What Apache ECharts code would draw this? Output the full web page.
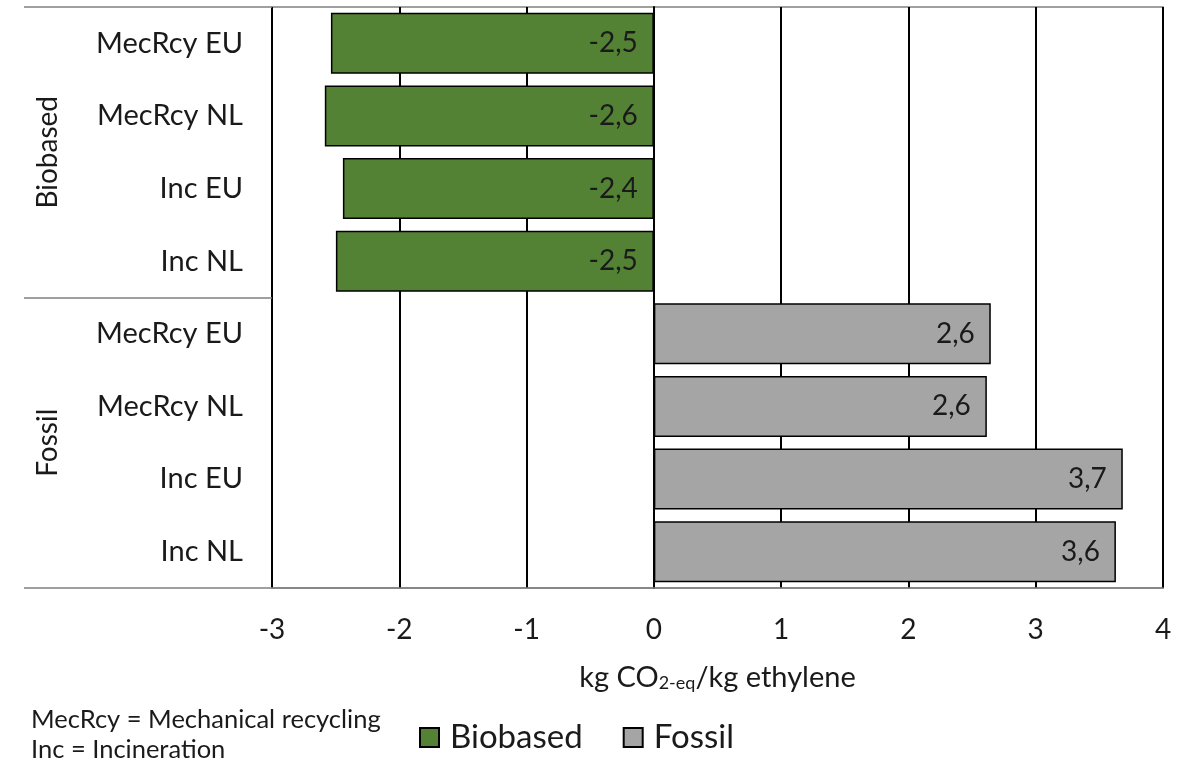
<!DOCTYPE html>
<html>
<head>
<meta charset="utf-8">
<script src="https://cdn.jsdelivr.net/npm/echarts@6/dist/echarts.min.js"></script>
<style>
  html, body { margin: 0; padding: 0; background: #ffffff; }
  #chart { width: 1183px; height: 762px; }
</style>
</head>
<body>
<div id="chart"></div>
<script>
// Scenario rows, top to bottom, with the feedstock group each belongs to
const groups = ['Biobased', 'Fossil'];
const scenarios = ['MecRcy EU', 'MecRcy NL', 'Inc EU', 'Inc NL'];

// Net GHG emissions, kg CO2-eq per kg ethylene
const biobasedValues = [-2.537, -2.585, -2.443, -2.498];
const fossilValues = [2.647, 2.616, 3.684, 3.630];

// Value axis ticks
const xMin = -3, xMax = 4, xStep = 1;

const notes = ['MecRcy = Mechanical recycling', 'Inc = Incineration'];

const FONT = 'Lato';
const INK = '#1a1a1a';

// One category per (group, scenario) pair; keys are unique, labels show only the scenario
const rowKeys = [];
groups.forEach(g => scenarios.forEach(s => rowKeys.push(g + '|' + s)));

const nulls = scenarios.map(() => null);
const bioData = biobasedValues.concat(nulls);
const fossilData = nulls.concat(fossilValues);

const fmt = v => v.toFixed(1).replace('.', ',');

const valueLabel = {
  show: true,
  position: 'insideRight',
  distance: 16,
  fontFamily: FONT,
  fontSize: 28,
  color: INK,
  formatter: p => fmt(p.value)
};

const chart = echarts.init(document.getElementById('chart'), null, { renderer: 'canvas' });

chart.setOption({
  animation: false,
  backgroundColor: '#ffffff',
  textStyle: { fontFamily: FONT },
  grid: {
    left: 272, right: 20, top: 7, bottom: 174,
    show: true, borderColor: '#808080', borderWidth: 1.5, backgroundColor: 'transparent'
  },
  legend: {
    left: 414, top: 716,
    icon: 'rect', itemWidth: 19, itemHeight: 19, itemGap: 40,
    textStyle: { fontFamily: FONT, fontSize: 33, color: INK, padding: [0, 0, 0, 6] },
    data: groups
  },
  xAxis: {
    type: 'value',
    min: xMin, max: xMax, interval: xStep,
    axisLine: { show: true, onZero: false, lineStyle: { color: '#808080', width: 1.5 } },
    axisTick: { show: false },
    splitLine: { show: true, lineStyle: { color: '#000000', width: 2 } },
    axisLabel: { fontFamily: FONT, fontSize: 28, color: INK, margin: 28 },
    name: '{n|kg CO}{s|2-eq}{n|/kg ethylene}',
    nameLocation: 'middle',
    nameGap: 70,
    nameTextStyle: {
      rich: {
        n: { fontFamily: FONT, fontSize: 29, color: INK, verticalAlign: 'bottom', lineHeight: 34 },
        s: { fontFamily: FONT, fontSize: 18, color: INK, verticalAlign: 'bottom', lineHeight: 13 }
      }
    }
  },
  yAxis: [
    {
      type: 'category',
      data: rowKeys,
      inverse: true,
      axisLine: { show: true, lineStyle: { color: '#000000', width: 2 } },
      axisTick: { show: false },
      splitLine: { show: false },
      axisLabel: {
        fontFamily: FONT, fontSize: 29, color: INK, margin: 29,
        formatter: k => k.split('|')[1]
      }
    },
    {
      // Group band on the far left: its ticks are the separators, its labels the group names
      type: 'category',
      data: groups,
      inverse: true,
      position: 'left',
      offset: 248,
      axisLine: { show: false },
      axisTick: { show: true, inside: true, length: 248, lineStyle: { color: '#808080', width: 1.5 } },
      splitLine: { show: false },
      axisLabel: {
        inside: true, rotate: 90, margin: 10,
        fontFamily: FONT, fontSize: 28, color: INK
      }
    }
  ],
  series: [
    {
      name: 'Biobased',
      type: 'bar',
      stack: 'net',
      barWidth: 61,
      data: bioData,
      itemStyle: { color: '#548235', borderColor: '#000000', borderWidth: 1.5 },
      label: valueLabel
    },
    {
      name: 'Fossil',
      type: 'bar',
      stack: 'net',
      barWidth: 61,
      data: fossilData,
      itemStyle: { color: '#a5a5a5', borderColor: '#000000', borderWidth: 1.5 },
      label: valueLabel
    }
  ],
  graphic: notes.map((t, i) => ({
    type: 'text',
    left: 31,
    top: 707 + i * 30,
    style: { text: t, fontFamily: FONT, fontSize: 25.5, fill: INK }
  }))
});
</script>
</body>
</html>
